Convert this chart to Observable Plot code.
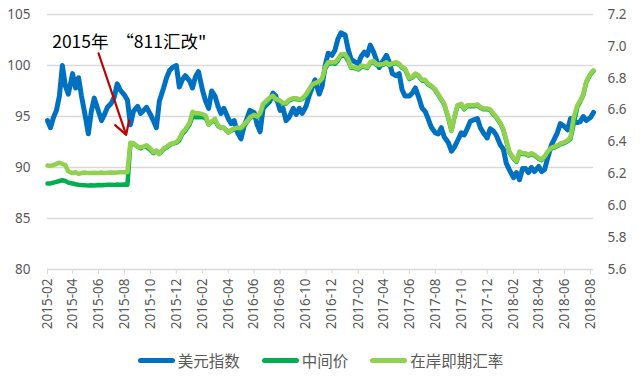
<!DOCTYPE html>
<html><head><meta charset="utf-8">
<script src="https://cdn.jsdelivr.net/npm/d3@7"></script>
<script src="https://cdn.jsdelivr.net/npm/@observablehq/plot@0.6"></script>
<style>
body{margin:0;background:#fff;}
#legend{display:flex;justify-content:center;align-items:center;height:40px;gap:22px;font-size:15.5px;color:#595959;font-family:"Noto Sans CJK SC",sans-serif;}
.item{display:flex;align-items:center;}
.sw{width:37px;height:5px;margin-right:3px;border-radius:2.5px;}
</style></head><body><div id="chart"></div><div id="legend"></div>
<script>
// ---- data ----
const months = ["2015-02","2015-03","2015-04","2015-05","2015-06","2015-07","2015-08","2015-09","2015-10","2015-11","2015-12",
"2016-01","2016-02","2016-03","2016-04","2016-05","2016-06","2016-07","2016-08","2016-09","2016-10","2016-11","2016-12",
"2017-01","2017-02","2017-03","2017-04","2017-05","2017-06","2017-07","2017-08","2017-09","2017-10","2017-11","2017-12",
"2018-01","2018-02","2018-03","2018-04","2018-05","2018-06","2018-07","2018-08"];
const sampleDays = ["01","08","15","22"];
// 美元指数 (left axis)
const dxy = [
[94.6,93.9,94.9,95.6],[97.0,100.0,98.0,97.2],[99.2,97.8,98.8,97.0],[95.0,93.3,95.5,96.8],[95.5,94.6,95.2,95.9],[96.3,96.9,98.2,97.6],
[97.1,96.6,94.2,95.5],[96.0,95.3,95.6,95.9],[95.2,94.6,93.9,96.5],[97.8,98.8,99.5,99.8],[100.0,97.9,98.6,99.0],
[98.5,97.8,98.9,99.4],[97.5,96.5,95.8,97.5],[97.0,96.0,95.3,95.8],[94.8,94.3,94.6,93.5],[92.8,94.0,94.8,95.6],[95.4,94.2,93.5,95.8],
[96.2,96.5,97.3,97.0],[95.6,95.8,94.6,94.9],[95.8,95.2,95.8,95.3],[96.0,97.0,97.8,98.6],[97.2,98.0,100.0,101.2],[101.0,101.5,102.6,103.2],
[103.0,101.6,100.6,100.4],[100.2,100.9,101.3,101.0],[102.0,101.4,100.6,99.8],[100.5,101.0,100.3,99.2],[99.0,99.2,97.6,97.0],[97.0,97.3,97.8,97.0],
[95.8,95.5,94.8,94.0],[93.4,93.3,93.9,93.0],[92.4,91.6,92.0,92.6],[93.4,93.2,93.8,94.5],[94.7,94.8,93.9,93.4],[92.9,93.8,93.6,93.2],
[92.2,91.8,90.4,89.8],[89.0,89.5,88.8,89.9],[89.9,89.5,90.0,89.6],[90.1,89.6,89.8,90.9],[92.2,92.8,93.4,94.3],[94.0,93.7,94.8,94.5],
[94.4,94.5,95.0,94.6],[94.9,95.4]];
// 中间价 (right axis)
const mid = [
[6.140,6.140,6.145,6.150],[6.155,6.160,6.155,6.145],[6.140,6.135,6.132,6.130],[6.128,6.127,6.128,6.127],[6.130,6.128,6.130,6.132],[6.132,6.131,6.133,6.132],
[6.133,6.132,6.390,6.390],[6.370,6.360,6.370,6.370],[6.350,6.330,6.345,6.325],[6.355,6.365,6.380,6.390],[6.395,6.410,6.450,6.470],
[6.510,6.560,6.555,6.555],[6.555,6.550,6.510,6.525],[6.535,6.500,6.490,6.490],[6.460,6.470,6.480,6.485],[6.480,6.500,6.525,6.550],[6.570,6.555,6.575,6.625],
[6.650,6.675,6.685,6.665],[6.655,6.640,6.640,6.660],[6.670,6.670,6.665,6.670],[6.690,6.720,6.755,6.765],[6.775,6.795,6.860,6.890],[6.895,6.890,6.910,6.945],
[6.940,6.910,6.865,6.865],[6.855,6.870,6.870,6.865],[6.895,6.905,6.885,6.880],[6.885,6.895,6.880,6.890],[6.895,6.885,6.865,6.855],[6.795,6.805,6.825,6.815],
[6.785,6.785,6.760,6.750],[6.725,6.695,6.665,6.635],[6.545,6.470,6.555,6.625],[6.635,6.605,6.625,6.625],[6.625,6.630,6.615,6.605],[6.605,6.600,6.575,6.555],
[6.515,6.475,6.405,6.335],[6.295,6.275,6.335,6.325],[6.325,6.315,6.325,6.315],[6.295,6.285,6.305,6.335],[6.360,6.365,6.375,6.385],[6.395,6.405,6.420,6.510],
[6.620,6.655,6.695,6.775],[6.825,6.845]];
// 在岸即期汇率 (right axis)
const spot = [
[6.252,6.250,6.255,6.263],[6.270,6.262,6.255,6.215],[6.205,6.210,6.200,6.205],[6.208,6.205,6.206,6.207],[6.206,6.208,6.205,6.207],[6.209,6.207,6.209,6.210],
[6.210,6.212,6.395,6.392],[6.370,6.366,6.370,6.380],[6.360,6.335,6.345,6.325],[6.360,6.370,6.385,6.390],[6.400,6.420,6.460,6.480],
[6.520,6.590,6.580,6.580],[6.575,6.565,6.510,6.530],[6.545,6.505,6.490,6.490],[6.460,6.475,6.485,6.490],[6.490,6.510,6.530,6.555],[6.570,6.560,6.580,6.640],
[6.660,6.680,6.690,6.670],[6.660,6.645,6.645,6.665],[6.675,6.675,6.668,6.672],[6.700,6.730,6.760,6.770],[6.780,6.800,6.870,6.900],[6.900,6.900,6.920,6.950],
[6.950,6.920,6.870,6.870],[6.860,6.880,6.875,6.870],[6.900,6.910,6.890,6.885],[6.890,6.900,6.885,6.895],[6.900,6.890,6.870,6.860],[6.800,6.810,6.830,6.820],
[6.790,6.790,6.765,6.755],[6.730,6.700,6.670,6.640],[6.550,6.470,6.560,6.630],[6.640,6.610,6.630,6.630],[6.630,6.635,6.620,6.610],[6.610,6.605,6.580,6.560],
[6.520,6.480,6.410,6.340],[6.300,6.280,6.340,6.330],[6.330,6.320,6.330,6.320],[6.300,6.290,6.310,6.340],[6.365,6.370,6.380,6.390],[6.400,6.410,6.430,6.550],
[6.630,6.660,6.700,6.780],[6.830,6.850]];

const seriesNames = ["美元指数","中间价","在岸即期汇率"];
const seriesColors = ["#0070C0","#00B050","#92D050"];
const leftTicks = [80,85,90,95,100,105];
const rightTicks = [5.6,5.8,6.0,6.2,6.4,6.6,6.8,7.0,7.2];
const xTickLabels = ["2015-02","2015-04","2015-06","2015-08","2015-10","2015-12","2016-02","2016-04","2016-06","2016-08","2016-10","2016-12",
"2017-02","2017-04","2017-06","2017-08","2017-10","2017-12","2018-02","2018-04","2018-06","2018-08"];
const xDomain = ["2015-02-01","2018-08-08"];
const annotationText = ["2015年  “811汇改\""];
const annotationText_pos = ["2015-02-12", 102.3];
const arrowFrom = ["2015-06-01", 101.2];
const arrowTo = ["2015-08-05", 93.2];

// ---- dual axis mapping (right 5.6–7.2 ↔ left 80–105) ----
const toLeft = v => 80 + (v - 5.6) * 25 / 1.6;
const fromLeft = y => 5.6 + (y - 80) * 1.6 / 25;

const rows = [];
months.forEach((m, i) => {
  dxy[i].forEach((v, j) => {
    rows.push({date: new Date(`${m}-${sampleDays[j]}`), dxy: v, mid: mid[i][j], spot: spot[i][j]});
  });
});

const annot = [{
  tx: new Date(annotationText_pos[0]), ty: annotationText_pos[1], label: annotationText[0],
  x1: new Date(arrowFrom[0]), y1: arrowFrom[1], x2: new Date(arrowTo[0]), y2: arrowTo[1]
}];

const chart = Plot.plot({
  width: 641, height: 340,
  marginTop: 14, marginBottom: 71, marginLeft: 47, marginRight: 48,
  style: {fontFamily: '"Noto Sans", sans-serif', fontSize: "13.5px", color: "#595959", background: "#fff"},
  x: {type: "utc", domain: xDomain.map(d => new Date(d))},
  y: {domain: [80, 105]},
  marks: [
    Plot.gridY(leftTicks.filter(d => d > 80), {stroke: "#d9d9d9", strokeOpacity: 1, strokeWidth: 1.3}),
    Plot.ruleY([80], {stroke: "#d9d9d9", strokeWidth: 1.5}),
    Plot.axisY(leftTicks, {anchor: "left", tickSize: 0, tickPadding: 17, label: null}),
    Plot.axisY(rightTicks.map(toLeft), {anchor: "right", tickSize: 0, tickPadding: 14, label: null, tickFormat: d => fromLeft(d).toFixed(1)}),
    Plot.axisX(xTickLabels.map(s => new Date(s + "-01")), {tickRotate: -90, tickFormat: d3.utcFormat("%Y-%m"), tickSize: 5, tickPadding: 4, stroke: "#d9d9d9", label: null}),
    Plot.line(rows, {x: "date", y: "dxy", stroke: seriesColors[0], strokeWidth: 5, strokeLinejoin: "round"}),
    Plot.line(rows, {x: "date", y: d => toLeft(d.mid), stroke: seriesColors[1], strokeWidth: 4.5, strokeLinejoin: "round"}),
    Plot.line(rows, {x: "date", y: d => toLeft(d.spot), stroke: seriesColors[2], strokeWidth: 4.5, strokeLinejoin: "round"}),
    Plot.arrow(annot, {x1: "x1", y1: "y1", x2: "x2", y2: "y2", stroke: "#C00000", strokeWidth: 2.2, headLength: 10}),
    Plot.text(annot, {x: "tx", y: "ty", text: "label", textAnchor: "start", fontSize: 17.5, fill: "#000",
      fontFamily: '"Noto Sans CJK SC", sans-serif'})
  ]
});
document.getElementById("chart").appendChild(chart);

const legend = document.getElementById("legend");
seriesNames.forEach((name, i) => {
  const item = document.createElement("div");
  item.className = "item";
  item.innerHTML = `<span class="sw" style="background:${seriesColors[i]}"></span><span>${name}</span>`;
  legend.appendChild(item);
});
</script></body></html>
